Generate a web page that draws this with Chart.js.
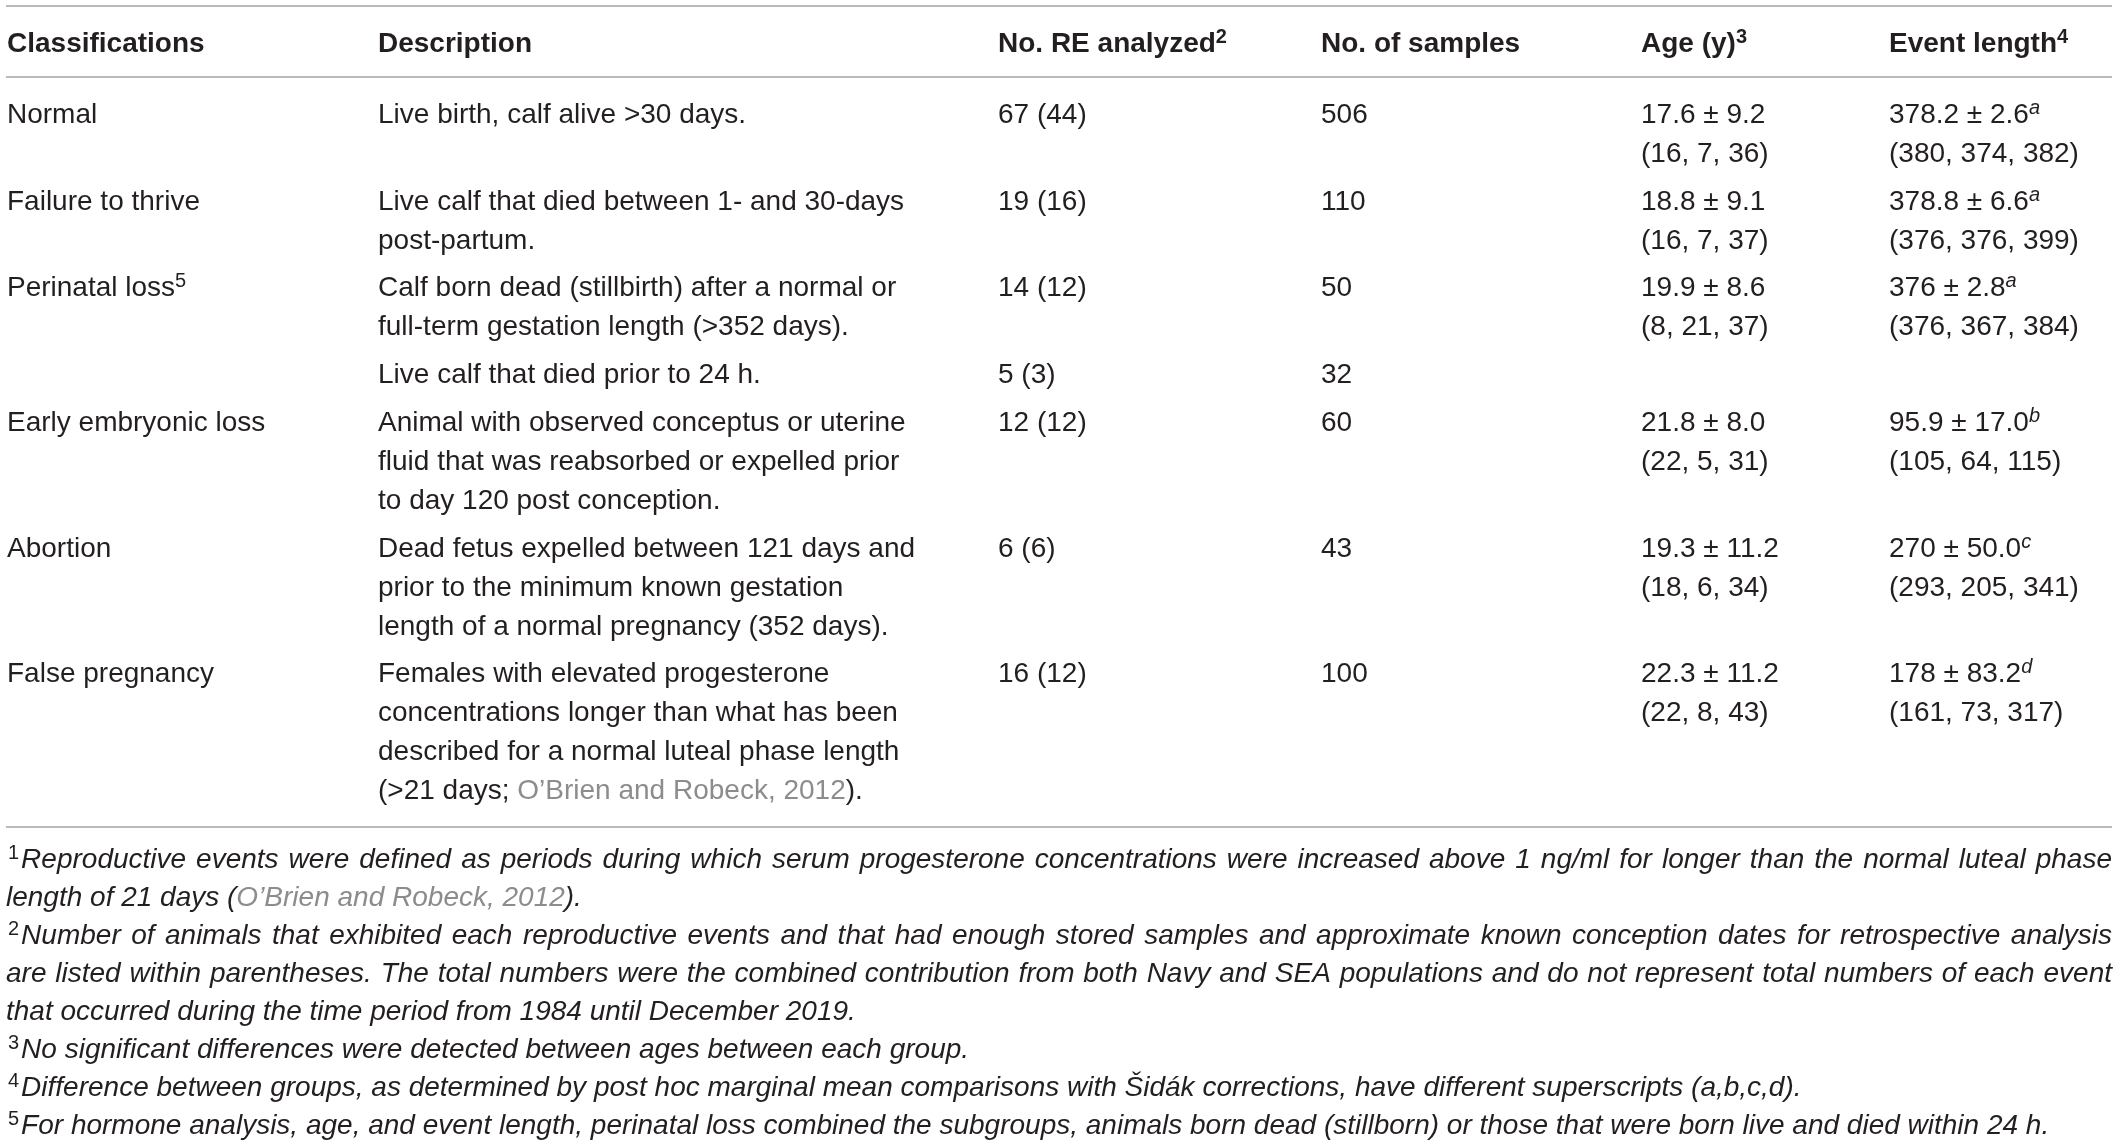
<!DOCTYPE html>
<html>
<head>
<meta charset="utf-8">
<script src="https://cdn.jsdelivr.net/npm/chart.js@4.4.1/dist/chart.umd.min.js"></script>
<style>
html,body{margin:0;padding:0;background:#fff;overflow:hidden}
#wrap{position:relative;width:2118px;height:1142px}
</style>
</head>
<body>
<div id="wrap"><canvas id="c"></canvas></div>
<script>
// ---------------- DATA ----------------
const headers = ['Classifications', 'Description', 'No. RE analyzed', 'No. of samples', 'Age (y)', 'Event length'];
const headerNotes = ['', '', '2', '', '3', '4'];

const classifications = ['Normal', 'Failure to thrive', 'Perinatal loss', '', 'Early embryonic loss', 'Abortion', 'False pregnancy'];
const classNotes = ['', '', '5', '', '', '', ''];

const descriptions = [
  ['Live birth, calf alive >30 days.'],
  ['Live calf that died between 1- and 30-days', 'post-partum.'],
  ['Calf born dead (stillbirth) after a normal or', 'full-term gestation length (>352 days).'],
  ['Live calf that died prior to 24 h.'],
  ['Animal with observed conceptus or uterine', 'fluid that was reabsorbed or expelled prior', 'to day 120 post conception.'],
  ['Dead fetus expelled between 121 days and', 'prior to the minimum known gestation', 'length of a normal pregnancy (352 days).'],
  ['Females with elevated progesterone', 'concentrations longer than what has been', 'described for a normal luteal phase length', '(>21 days; {O\u2019Brien and Robeck, 2012}).']
];

const reAnalyzed = [67, 19, 14, 5, 12, 6, 16];
const reAnimals  = [44, 16, 12, 3, 12, 6, 12];
const samples    = [506, 110, 50, 32, 60, 43, 100];

const ageMean  = ['17.6', '18.8', '19.9', null, '21.8', '19.3', '22.3'];
const ageSD    = ['9.2', '9.1', '8.6', null, '8.0', '11.2', '11.2'];
const ageRange = [[16, 7, 36], [16, 7, 37], [8, 21, 37], null, [22, 5, 31], [18, 6, 34], [22, 8, 43]];

const eventMean  = ['378.2', '378.8', '376', null, '95.9', '270', '178'];
const eventSD    = ['2.6', '6.6', '2.8', null, '17.0', '50.0', '83.2'];
const eventGroup = ['a', 'a', 'a', null, 'b', 'c', 'd'];
const eventRange = [[380, 374, 382], [376, 376, 399], [376, 367, 384], null, [105, 64, 115], [293, 205, 341], [161, 73, 317]];

const footnoteNums = ['1', '2', '3', '4', '5'];
const footnotes = [
  ['Reproductive events were defined as periods during which serum progesterone concentrations were increased above 1 ng/ml for longer than the normal luteal phase',
   'length of 21 days ({O\u2019Brien and Robeck, 2012}).'],
  ['Number of animals that exhibited each reproductive events and that had enough stored samples and approximate known conception dates for retrospective analysis',
   'are listed within parentheses. The total numbers were the combined contribution from both Navy and SEA populations and do not represent total numbers of each event',
   'that occurred during the time period from 1984 until December 2019.'],
  ['No significant differences were detected between ages between each group.'],
  ['Difference between groups, as determined by post hoc marginal mean comparisons with \u0160id\u00e1k corrections, have different superscripts (a,b,c,d).'],
  ['For hormone analysis, age, and event length, perinatal loss combined the subgroups, animals born dead (stillborn) or those that were born live and died within 24 h.']
];

// ---------------- LAYOUT / STYLE ----------------
const W = 2118, H = 1142;
const L = {
  colX: [7, 378, 998, 1321, 1641, 1889],
  ruleX0: 6, ruleX1: 2112,
  topRule: 6, headRule: 77, bottomRule: 827,
  headBase: 52,
  firstBase: 123, lineStep: 39, rowStep: 47.7,
  fnBase: 868, fnStep: 38, fnSupX: 8, fnContX: 6, fnRight: 2112,
  size: 28, supSize: 20, supRaise: 9
};
const C = { text: '#231f20', cite: '#8c8c8c', rule: '#a3a3a3' };
const FAM = '"Liberation Sans", "Helvetica Neue", Arial, sans-serif';

function fontStr(s) {
  return (s.italic ? 'italic ' : '') + (s.bold ? 'bold ' : '') + s.size + 'px ' + FAM;
}

// parse markup: ^{x} superscript upright, ^i{x} superscript italic, {x} citation (grey)
function parse(str, base) {
  const out = [];
  const re = /\^i\{([^}]*)\}|\^\{([^}]*)\}|\{([^}]*)\}|([^{^]+)/g;
  let m;
  while ((m = re.exec(str)) !== null) {
    if (m[1] !== undefined) {
      out.push({ t: m[1], st: { bold: base.bold, italic: true, size: L.supSize }, color: base.color, dy: -L.supRaise, sp: false });
    } else if (m[2] !== undefined) {
      out.push({ t: m[2], st: { bold: base.bold, italic: false, size: L.supSize }, color: base.color, dy: -L.supRaise, sp: false });
    } else {
      const txt = m[3] !== undefined ? m[3] : m[4];
      const color = m[3] !== undefined ? C.cite : base.color;
      txt.split(/( +)/).forEach(w => {
        if (w === '') return;
        out.push({ t: w, st: { bold: base.bold, italic: base.italic, size: base.size }, color: color, dy: 0, sp: /^ +$/.test(w) });
      });
    }
  }
  return out;
}

function drawRich(ctx, str, x, y, base, justifyTo) {
  const ps = parse(str, base);
  let natural = 0, nsp = 0;
  ps.forEach(p => { ctx.font = fontStr(p.st); p.w = ctx.measureText(p.t).width; natural += p.w; if (p.sp) nsp++; });
  let extra = 0, sx = 1;
  if (justifyTo) {
    const avail = justifyTo - x;
    if (natural < avail && nsp > 0) extra = (avail - natural) / nsp;
    else if (natural > avail) sx = avail / natural;
  }
  ctx.save();
  ctx.translate(x, y);
  ctx.scale(sx, 1);
  let cx = 0;
  ps.forEach(p => {
    if (!p.sp) {
      ctx.font = fontStr(p.st);
      ctx.fillStyle = p.color;
      ctx.fillText(p.t, cx, p.dy);
    }
    cx += p.w + (p.sp ? extra : 0);
  });
  ctx.restore();
  return x + cx * sx;
}

const tablePlugin = {
  id: 'tablePlugin',
  afterDraw(chart) {
    const ctx = chart.ctx;
    const xs = chart.scales.x, ys = chart.scales.y;
    const X = v => xs.getPixelForValue(v);
    const Y = v => ys.getPixelForValue(v);
    ctx.save();
    ctx.textBaseline = 'alphabetic';
    ctx.textAlign = 'left';

    // rules
    ctx.strokeStyle = C.rule;
    ctx.lineWidth = 1.6;
    [L.topRule, L.headRule, L.bottomRule].forEach(r => {
      ctx.beginPath();
      ctx.moveTo(X(L.ruleX0), Y(r));
      ctx.lineTo(X(L.ruleX1), Y(r));
      ctx.stroke();
    });

    const body = { bold: false, italic: false, size: L.size, color: C.text };
    const head = { bold: true, italic: false, size: L.size, color: C.text };

    // header
    headers.forEach((h, i) => {
      const s = h + (headerNotes[i] ? '^{' + headerNotes[i] + '}' : '');
      drawRich(ctx, s, X(L.colX[i]), Y(L.headBase), head);
    });

    // rows
    let base = L.firstBase;
    classifications.forEach((cls, i) => {
      const cells = [
        [cls + (classNotes[i] ? '^{' + classNotes[i] + '}' : '')],
        descriptions[i],
        [reAnalyzed[i] + ' (' + reAnimals[i] + ')'],
        [String(samples[i])],
        ageMean[i] ? [ageMean[i] + ' \u00b1 ' + ageSD[i], '(' + ageRange[i].join(', ') + ')'] : [],
        eventMean[i] ? [eventMean[i] + ' \u00b1 ' + eventSD[i] + '^i{' + eventGroup[i] + '}', '(' + eventRange[i].join(', ') + ')'] : []
      ];
      let n = 1;
      cells.forEach((lines, c) => {
        lines.forEach((ln, k) => {
          if (ln) drawRich(ctx, ln, X(L.colX[c]), Y(base + k * L.lineStep), body);
        });
        n = Math.max(n, lines.length);
      });
      base += (n - 1) * L.lineStep + L.rowStep;
    });

    // footnotes
    const fn = { bold: false, italic: true, size: L.size, color: C.text };
    let fl = 0;
    footnotes.forEach((lines, i) => {
      lines.forEach((ln, k) => {
        const y = Y(L.fnBase + fl * L.fnStep);
        const justify = k < lines.length - 1 ? X(L.fnRight) : null;
        if (k === 0) {
          const nx = drawRich(ctx, '^{' + footnoteNums[i] + '}', X(L.fnSupX), y, fn);
          drawRich(ctx, ln, nx + 2, y, fn, justify);
        } else {
          drawRich(ctx, ln, X(L.fnContX), y, fn, justify);
        }
        fl++;
      });
    });
    ctx.restore();
  }
};

const canvas = document.getElementById('c');
new Chart(canvas, {
  type: 'scatter',
  data: { datasets: [] },
  options: {
    responsive: true,
    maintainAspectRatio: false,
    animation: false,
    events: [],
    layout: { padding: 0 },
    plugins: { legend: { display: false }, tooltip: { enabled: false }, title: { display: false } },
    scales: {
      x: { type: 'linear', min: 0, max: W, display: false },
      y: { type: 'linear', min: 0, max: H, reverse: true, display: false }
    }
  },
  plugins: [tablePlugin]
});
</script>
</body>
</html>
